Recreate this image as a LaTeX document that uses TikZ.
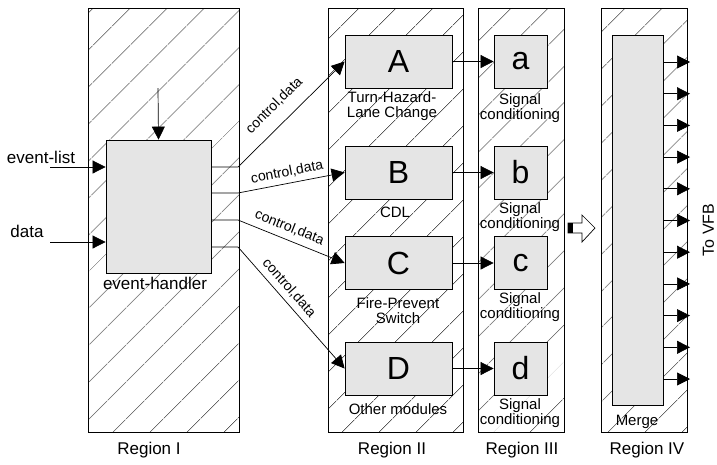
\documentclass[tikz,border=0pt]{standalone}
\usepackage{fontspec}
\setmainfont{Liberation Sans}
\usetikzlibrary{arrows.meta,patterns.meta}
\begin{document}
\begin{tikzpicture}[x=1pt,y=-1pt,
  region/.style={draw, line width=0.8pt, inner sep=0pt,
    pattern={Lines[angle=45,distance=27pt,line width=0.6pt]}},
  box/.style={draw, fill=black!10, line width=0.8pt, inner sep=0pt,
    font=\fontsize{32}{32}\selectfont},
  lbl/.style={font=\fontsize{15}{15}\selectfont, align=center, inner sep=0pt},
  biglbl/.style={font=\fontsize{17}{17}\selectfont, inner sep=0pt},
  cd/.style={font=\fontsize{14}{14}\selectfont, sloped, inner sep=0pt},
  arr/.style={-{Triangle[length=13pt,width=13pt]}, line width=0.7pt},
  conn/.style={line width=0.7pt}
]
\useasboundingbox (0,0) rectangle (717,464);

% regions
\node[region, minimum width=151pt, minimum height=424pt] (R1) at (163.5,220) {};
\node[region, minimum width=135pt, minimum height=424pt] (R2) at (395.5,220) {};
\node[region, minimum width=86pt, minimum height=424pt] (R3) at (521,220) {};
\node[region, minimum width=86pt, minimum height=424pt] (R4) at (644,220) {};

% boxes
\node[box, minimum width=105pt, minimum height=133pt] (eh) at (158.5,206.5) {};
\node[box, minimum width=107pt, minimum height=53pt] (A) at (398.5,61.5) {A};
\node[box, minimum width=107pt, minimum height=53pt] (B) at (398.5,172.5) {B};
\node[box, minimum width=107pt, minimum height=53pt] (C) at (398.5,263) {C};
\node[box, minimum width=107pt, minimum height=53pt] (D) at (398.5,368.5) {D};
\node[box, minimum width=53pt, minimum height=53pt] (a) at (520.5,61.5) {a};
\node[box, minimum width=53pt, minimum height=53pt] (b) at (520.5,172.5) {b};
\node[box, minimum width=53pt, minimum height=53pt] (c) at (520.5,263) {c};
\node[box, minimum width=53pt, minimum height=53pt] (d) at (520.5,368.5) {d};
\node[box, minimum width=51pt, minimum height=370pt] (m) at (637.5,220) {};

% labels
\node[biglbl] (evl) at (41,157) {event-list};
\node[biglbl] (dat) at (27,231) {data};
\node[biglbl] (ehl) at (155,283) {event-handler};
\node[lbl] (lA) at (392,106) {Turn-Hazard-\\Lane Change};
\node[lbl] (lB) at (395,212) {CDL};
\node[lbl] (lC) at (398,311) {Fire-Prevent\\Switch};
\node[lbl] (lD) at (398,409) {Other modules};
\node[lbl] (la) at (520,108) {Signal\\conditioning};
\node[lbl] (lb) at (520,217) {Signal\\conditioning};
\node[lbl] (lc) at (520,307) {Signal\\conditioning};
\node[lbl] (ld) at (520,413.5) {Signal\\conditioning};
\node[lbl] (lm) at (637,422) {Merge};
\node[biglbl] (r1) at (149,450) {Region I};
\node[biglbl] (r2) at (392,450) {Region II};
\node[biglbl] (r3) at (522,450) {Region III};
\node[biglbl] (r4) at (647,450) {Region IV};
\node[font=\fontsize{16}{16}\selectfont, inner sep=0pt, rotate=90] (vfb) at (708.5,230) {To VFB};

% inputs
\coordinate (top) at (158,88);
\coordinate (evs) at (50,167);
\coordinate (ds) at (50,242);
\draw[arr] (top) -- (eh.north);
\draw[arr] (evs) -- (evs -| eh.west);
\draw[arr] (ds) -- (ds -| eh.west);

% control,data connectors
\coordinate (k1) at (238,167);
\coordinate (k2) at (238,193);
\coordinate (k3) at (238,220);
\coordinate (k4) at (238,247);
\draw[arr] (k1 -| eh.east) -- (k1) -- node[cd, above=12pt, pos=0.46] (l1) {control,data} (A.west);
\draw[arr] (k2 -| eh.east) -- (k2) -- node[cd, above=5pt, pos=0.48] (l2) {control,data} (B.west);
\draw[arr] (k3 -| eh.east) -- (k3) -- node[cd, above=6pt, pos=0.44] (l3) {control,data} (C.west);
\draw[arr] (k4 -| eh.east) -- (k4) -- node[cd, above=5pt, pos=0.40] (l4) {control,data} (D.west);

% to signal conditioning
\draw[arr] (A.east) -- (a.west);
\draw[arr] (B.east) -- (b.west);
\draw[arr] (C.east) -- (c.west);
\draw[arr] (D.east) -- (d.west);

% block arrow
\fill (568,223) rectangle (573,233);
\draw[line width=0.7pt] (568,223) -- (582,223) -- (582,215) -- (595,228) -- (582,242) -- (582,233) -- (568,233) -- cycle;

% outputs
\foreach \i in {0,...,10} {
  \coordinate (o\i) at (690,{62+31.7*\i});
  \draw[arr] (o\i -| m.east) -- (o\i);
}
\end{tikzpicture}
\end{document}
